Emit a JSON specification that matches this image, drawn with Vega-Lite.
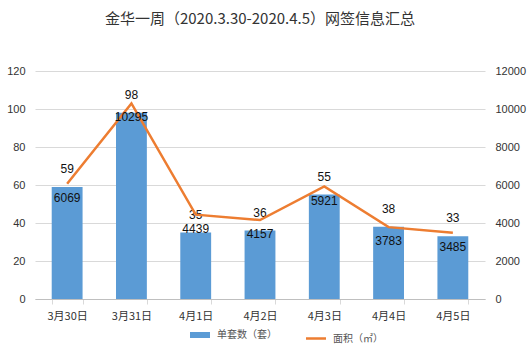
{
  "$schema": "https://vega.github.io/schema/vega-lite/v6.json",
  "width": 532,
  "height": 355,
  "autosize": {"type": "fit", "contains": "padding"},
  "padding": {"left": 6, "right": 6, "top": 12, "bottom": 34},
  "background": "white",
  "title": {"text": "金华一周（2020.3.30-2020.4.5）网签信息汇总", "font": "Noto Sans CJK SC", "fontSize": 15, "fontWeight": "normal", "color": "#333333", "offset": 38},
  "config": {
    "view": {"stroke": null},
    "font": "Noto Sans CJK SC",
    "axis": {"labelFont": "Liberation Sans", "labelFontSize": 11, "labelColor": "#333333", "domainColor": "#D9D9D9", "tickColor": "#D9D9D9", "gridColor": "#D9D9D9", "title": null},
    "legend": {"labelFontSize": 10, "labelColor": "#555555", "title": null, "padding": 0, "columnPadding": 24}
  },
  "data": {"values": [
    {"date": "3月30日", "count": 59, "area": 6069},
    {"date": "3月31日", "count": 98, "area": 10295},
    {"date": "4月1日", "count": 35, "area": 4439},
    {"date": "4月2日", "count": 36, "area": 4157},
    {"date": "4月3日", "count": 55, "area": 5921},
    {"date": "4月4日", "count": 38, "area": 3783},
    {"date": "4月5日", "count": 33, "area": 3485}
  ]},
  "encoding": {
    "x": {"field": "date", "type": "nominal", "sort": null, "scale": {"paddingInner": 0.52, "paddingOuter": 0.26}, "axis": {"labelAngle": 0, "labelFont": "Noto Sans CJK SC", "labelFontSize": 11, "labelPadding": 6, "ticks": true, "tickBand": "extent", "domainColor": "#BFBFBF"}}
  },
  "layer": [
    {
      "mark": {"type": "bar"},
      "encoding": {
        "y": {"field": "count", "type": "quantitative", "scale": {"domain": [0, 120]}, "axis": {"values": [0,20,40,60,80,100,120], "grid": true, "domain": false, "ticks": false, "labelPadding": 10}},
        "color": {"datum": "单套数（套）", "type": "nominal",
          "scale": {"domain": ["单套数（套）", "面积（㎡）"], "range": ["#5B9BD5", "#ED7D31"]},
          "legend": {"orient": "none", "direction": "horizontal", "legendX": 160, "legendY": 259, "symbolType": "stroke", "symbolSize": 400, "labelOffset": 12,
            "encode": {"symbols": {"update": {"strokeWidth": {"signal": "datum.value === '单套数（套）' ? 6 : 2.5"}, "stroke": {"signal": "datum.value === '单套数（套）' ? '#5B9BD5' : '#ED7D31'"}}}}}}
      }
    },
    {
      "mark": {"type": "text", "dy": -18, "fontSize": 12, "font": "Liberation Sans", "color": "#111111"},
      "encoding": {
        "y": {"field": "count", "type": "quantitative", "scale": {"domain": [0, 120]}, "axis": null},
        "text": {"field": "count"}
      }
    },
    {
      "mark": {"type": "line", "strokeWidth": 2.5},
      "encoding": {
        "y": {"field": "area", "type": "quantitative", "scale": {"domain": [0, 12000]}, "axis": {"orient": "right", "format": "d", "values": [0,2000,4000,6000,8000,10000,12000], "grid": false, "domain": false, "ticks": false, "labelPadding": 10}},
        "color": {"datum": "面积（㎡）", "type": "nominal"}
      }
    },
    {
      "mark": {"type": "text", "dy": 14, "fontSize": 12, "font": "Liberation Sans", "color": "#111111"},
      "encoding": {
        "y": {"field": "area", "type": "quantitative", "scale": {"domain": [0, 12000]}, "axis": null},
        "text": {"field": "area"}
      }
    }
  ],
  "resolve": {"scale": {"y": "independent"}}
}
